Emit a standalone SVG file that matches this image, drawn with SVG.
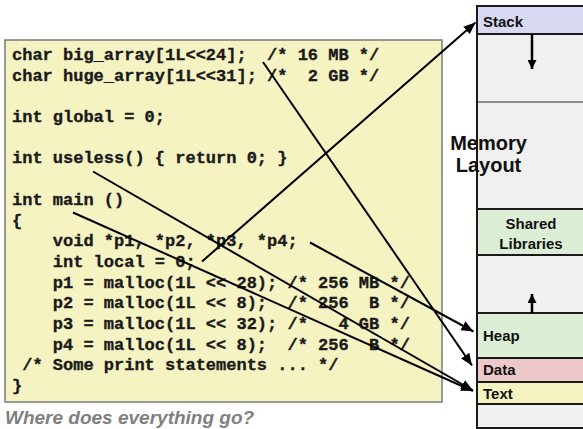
<svg xmlns="http://www.w3.org/2000/svg" width="583" height="429" viewBox="0 0 583 429">
  <defs>
    <marker id="ah" viewBox="0 0 12 10" refX="12" refY="5" markerWidth="12" markerHeight="10" markerUnits="userSpaceOnUse" orient="auto">
      <path d="M0,0 L12,5 L0,10 Z" fill="#000"/>
    </marker>
    <marker id="ahs" viewBox="0 0 9 9" refX="9" refY="4.5" markerWidth="9" markerHeight="9" markerUnits="userSpaceOnUse" orient="auto">
      <path d="M0,0 L9,4.5 L0,9 Z" fill="#000"/>
    </marker>
  </defs>
  <style>
    .code { font-family: "Liberation Mono", "Courier New", monospace; font-weight: bold; font-size: 17px; fill: #1a1a1a; stroke: #1a1a1a; stroke-width: 0.35; white-space: pre; }
    .seg { stroke: #1a1a1a; stroke-width: 2; }
    .lbl { font-family: "Liberation Sans", Arial, sans-serif; font-weight: bold; font-size: 15px; fill: #111; }
    .title { font-family: "Liberation Sans", Arial, sans-serif; font-weight: bold; font-size: 20px; fill: #111; }
    .cap { font-family: "Liberation Sans", Arial, sans-serif; font-weight: bold; font-style: italic; font-size: 19px; fill: #808080; }
    .conn { stroke: #000; stroke-width: 2; fill: none; marker-end: url(#ah); }
    .grow { stroke: #000; stroke-width: 2.5; marker-end: url(#ahs); }
  </style>

  <rect width="583" height="429" fill="#fff"/>

  <!-- source listing -->
  <g id="code">
    <rect x="5" y="40" width="437" height="362" fill="#f6f3c3" stroke="#7a7a7a" stroke-width="1.5"/>
    <text class="code" x="12" xml:space="preserve">
      <tspan x="12" y="60">char big_array[1L&lt;&lt;24];  /* 16 MB */</tspan>
      <tspan x="12" y="80.7">char huge_array[1L&lt;&lt;31]; /*  2 GB */</tspan>
      <tspan x="12" y="122">int global = 0;</tspan>
      <tspan x="12" y="163.4">int useless() { return 0; }</tspan>
      <tspan x="12" y="204.8">int main ()</tspan>
      <tspan x="12" y="225.5">{</tspan>
      <tspan x="12" y="246.2">    void *p1, *p2, *p3, *p4;</tspan>
      <tspan x="12" y="266.9">    int local = 0;</tspan>
      <tspan x="12" y="287.6">    p1 = malloc(1L &lt;&lt; 28); /* 256 MB */</tspan>
      <tspan x="12" y="308.3">    p2 = malloc(1L &lt;&lt; 8);  /* 256  B */</tspan>
      <tspan x="12" y="329">    p3 = malloc(1L &lt;&lt; 32); /*   4 GB */</tspan>
      <tspan x="12" y="349.7">    p4 = malloc(1L &lt;&lt; 8);  /* 256  B */</tspan>
      <tspan x="12" y="370.4"> /* Some print statements ... */</tspan>
      <tspan x="12" y="391.1">}</tspan>
    </text>
  </g>

  <!-- memory layout column -->
  <g id="memory">
    <rect x="477" y="6" width="130" height="422" fill="#f0f0f0"/>
    <g id="stack">
      <rect x="477" y="6" width="130" height="28" fill="#d9d9f3"/>
      <text class="lbl" x="483" y="27">Stack</text>
    </g>
    <g id="shared">
      <rect x="477" y="209" width="130" height="46" fill="#dcefd6"/>
      <text class="lbl" x="531" y="228.5" text-anchor="middle">Shared</text>
      <text class="lbl" x="531" y="248.5" text-anchor="middle">Libraries</text>
    </g>
    <g id="heap">
      <rect x="477" y="313" width="130" height="45" fill="#dcefd6"/>
      <text class="lbl" x="483" y="341">Heap</text>
    </g>
    <g id="data">
      <rect x="477" y="358" width="130" height="24" fill="#ecc8c8"/>
      <text class="lbl" x="483" y="375">Data</text>
    </g>
    <g id="textseg">
      <rect x="477" y="382" width="130" height="22" fill="#f6f3c3"/>
      <text class="lbl" x="483" y="398.5">Text</text>
    </g>
    <!-- boundaries -->
    <line x1="477" y1="102" x2="607" y2="102" stroke="#8c8c8c" stroke-width="2"/>
    <line class="seg" x1="477" y1="34" x2="607" y2="34"/>
    <line class="seg" x1="477" y1="209" x2="607" y2="209"/>
    <line class="seg" x1="477" y1="255" x2="607" y2="255"/>
    <line class="seg" x1="477" y1="313" x2="607" y2="313"/>
    <line class="seg" x1="477" y1="358" x2="607" y2="358"/>
    <line class="seg" x1="477" y1="382" x2="607" y2="382"/>
    <line class="seg" x1="477" y1="404" x2="607" y2="404"/>
    <rect x="477" y="6" width="130" height="422" fill="none" stroke="#1a1a1a" stroke-width="2"/>
    <!-- growth directions -->
    <line class="grow" x1="532" y1="34" x2="532" y2="69"/>
    <line class="grow" x1="532" y1="313" x2="532" y2="294"/>
  </g>

  <g id="title">
    <text class="title" x="488.5" y="150" text-anchor="middle">Memory</text>
    <text class="title" x="488.5" y="172" text-anchor="middle">Layout</text>
  </g>

  <!-- connectors from declarations to segments -->
  <g id="connectors">
    <line class="conn" x1="263" y1="62" x2="472" y2="365.5"/>
    <line class="conn" x1="93" y1="171.5" x2="473" y2="390.5"/>
    <line class="conn" x1="73" y1="212.5" x2="473" y2="391"/>
    <line class="conn" x1="202" y1="261.5" x2="475.5" y2="22.5"/>
    <line class="conn" x1="310" y1="242.5" x2="473.5" y2="331.5"/>
  </g>

  <text class="cap" x="5" y="424">Where does everything go?</text>
</svg>
